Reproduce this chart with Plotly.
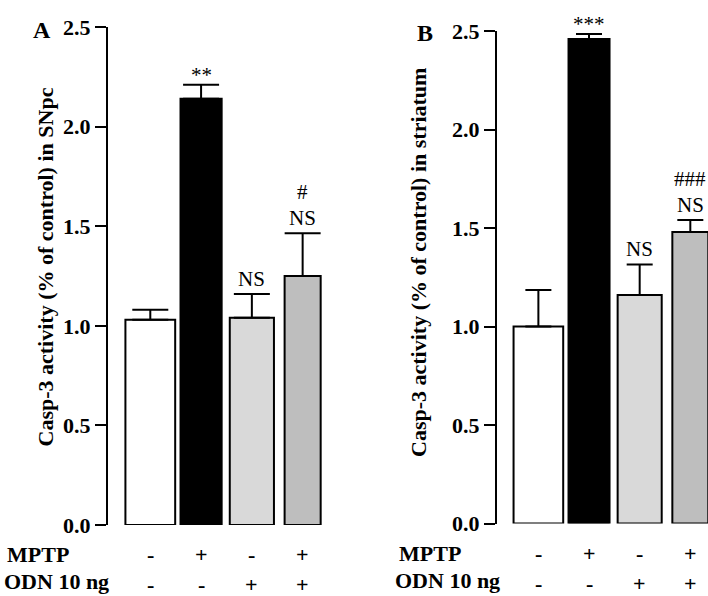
import plotly.graph_objects as go

# ---------------- data ----------------
groups = ["Control", "MPTP", "ODN 10 ng", "MPTP + ODN 10 ng"]
mptp_signs = ["-", "+", "-", "+"]
odn_signs = ["-", "-", "+", "+"]

snpc_mean = [1.03, 2.14, 1.04, 1.25]
snpc_sem = [0.05, 0.07, 0.12, 0.215]
snpc_sig = ["", "**", "NS", "NS"]
snpc_sig2 = ["", "", "", "#"]

striatum_mean = [1.0, 2.46, 1.16, 1.48]
striatum_sem = [0.185, 0.025, 0.155, 0.06]
striatum_sig = ["", "***", "NS", "NS"]
striatum_sig2 = ["", "", "", "###"]

y_ticks = [0.0, 0.5, 1.0, 1.5, 2.0, 2.5]
y_title_a = "Casp-3 activity (% of control) in SNpc"
y_title_b = "Casp-3 activity (% of control) in striatum"

# ---------------- style ----------------
W, H = 708, 596
FONT = "Liberation Serif"
fills = ["#ffffff", "#000000", "#d9d9d9", "#bebebe"]
bar_widths = [0.98, 0.81, 0.87, 0.71]


def px_x(p):
    return p / W


def px_y(p):
    return 1 - p / H


fig = go.Figure()

panels = [
    dict(xa="x", ya="y", mean=snpc_mean, sem=snpc_sem, sig=snpc_sig, sig2=snpc_sig2, cap=18),
    dict(xa="x2", ya="y2", mean=striatum_mean, sem=striatum_sem, sig=striatum_sig, sig2=striatum_sig2, cap=13),
]

annotations = []
for p in panels:
    fig.add_trace(go.Bar(
        x=groups, y=p["mean"], xaxis=p["xa"], yaxis=p["ya"],
        width=bar_widths,
        marker=dict(color=fills, line=dict(color="black", width=2)),
        error_y=dict(type="data", symmetric=False, array=p["sem"],
                     arrayminus=[0] * len(p["sem"]), color="black",
                     thickness=2, width=p["cap"]),
        showlegend=False, hoverinfo="skip",
    ))
    for i, g in enumerate(groups):
        top = p["mean"][i] + p["sem"][i]
        if p["sig"][i]:
            star = p["sig"][i].startswith("*")
            annotations.append(dict(
                x=g, y=top, xref=p["xa"], yref=p["ya"], text=p["sig"][i],
                showarrow=False, yanchor="middle", yshift=10 if star else 15,
                font=dict(family=FONT, size=21, color="black")))
        if p["sig2"][i]:
            annotations.append(dict(
                x=g, y=top, xref=p["xa"], yref=p["ya"], text=p["sig2"][i],
                showarrow=False, yanchor="middle", yshift=41,
                font=dict(family=FONT, size=21, color="black")))

# sign rows
rows = [
    ("x", 554, 581, mptp_signs, odn_signs),
    ("x2", 553, 580, mptp_signs, odn_signs),
]
bold = dict(family=FONT, size=22, color="black", weight="bold")
for xa, y1, y2, s1, s2 in rows:
    for i, g in enumerate(groups):
        annotations.append(dict(x=g, y=px_y(y1), xref=xa, yref="paper", text=s1[i],
                                showarrow=False, yanchor="middle", font=bold))
        annotations.append(dict(x=g, y=px_y(y2 + 3), xref=xa, yref="paper", text=s2[i],
                                showarrow=False, yanchor="middle", font=bold))

# row labels
for xl1, xl2, y1, y2 in [(5, 2, 554, 581), (397, 393, 553, 580)]:
    annotations.append(dict(x=px_x(xl1), y=px_y(y1), xref="paper", yref="paper", text="MPTP",
                            showarrow=False, xanchor="left", yanchor="middle", font=bold))
    annotations.append(dict(x=px_x(xl2), y=px_y(y2), xref="paper", yref="paper", text="ODN 10 ng",
                            showarrow=False, xanchor="left", yanchor="middle", font=bold))

# panel letters
annotations.append(dict(x=px_x(31), y=px_y(15), xref="paper", yref="paper", text="A",
                        showarrow=False, font=dict(family=FONT, size=24, color="black", weight="bold")))
annotations.append(dict(x=px_x(425), y=px_y(18), xref="paper", yref="paper", text="B",
                        showarrow=False, font=dict(family=FONT, size=24, color="black", weight="bold")))

# y titles
annotations.append(dict(x=px_x(30), y=px_y(267), xref="paper", yref="paper", text=y_title_a,
                        textangle=-90, showarrow=False, font=bold))
annotations.append(dict(x=px_x(418), y=px_y(263), xref="paper", yref="paper", text=y_title_b,
                        textangle=-90, showarrow=False, font=bold))

yaxis_common = dict(
    range=[0, 2.5], tickvals=y_ticks, ticktext=[f"{v:.1f}" for v in y_ticks],
    showline=True, linecolor="black", linewidth=2, ticks="outside", ticklen=11,
    tickwidth=2, tickcolor="black", showgrid=False, zeroline=False,
    tickfont=bold, fixedrange=True, automargin=False,
)
xaxis_common = dict(showline=False, showticklabels=False, ticks="", showgrid=False,
                    zeroline=False, type="category", fixedrange=True, automargin=False)

fig.update_layout(
    width=W, height=H,
    margin=dict(l=0, r=0, t=0, b=0, pad=0, autoexpand=False),
    paper_bgcolor="white", plot_bgcolor="white",
    xaxis=dict(domain=[px_x(108), px_x(326)], range=[-0.833, 3.46], anchor="y", **xaxis_common),
    yaxis=dict(domain=[px_y(525), px_y(27)], anchor="x", **yaxis_common),
    xaxis2=dict(domain=[px_x(497), 1.0], range=[-0.817, 3.349], anchor="y2", **xaxis_common),
    yaxis2=dict(domain=[px_y(523.5), px_y(31)], anchor="x2", **yaxis_common),
    annotations=annotations,
)

fig.write_html(
    "out.html",
    config={"displayModeBar": False, "staticPlot": True},
    post_script="document.body.style.margin='0';document.body.style.overflow='hidden';",
)
